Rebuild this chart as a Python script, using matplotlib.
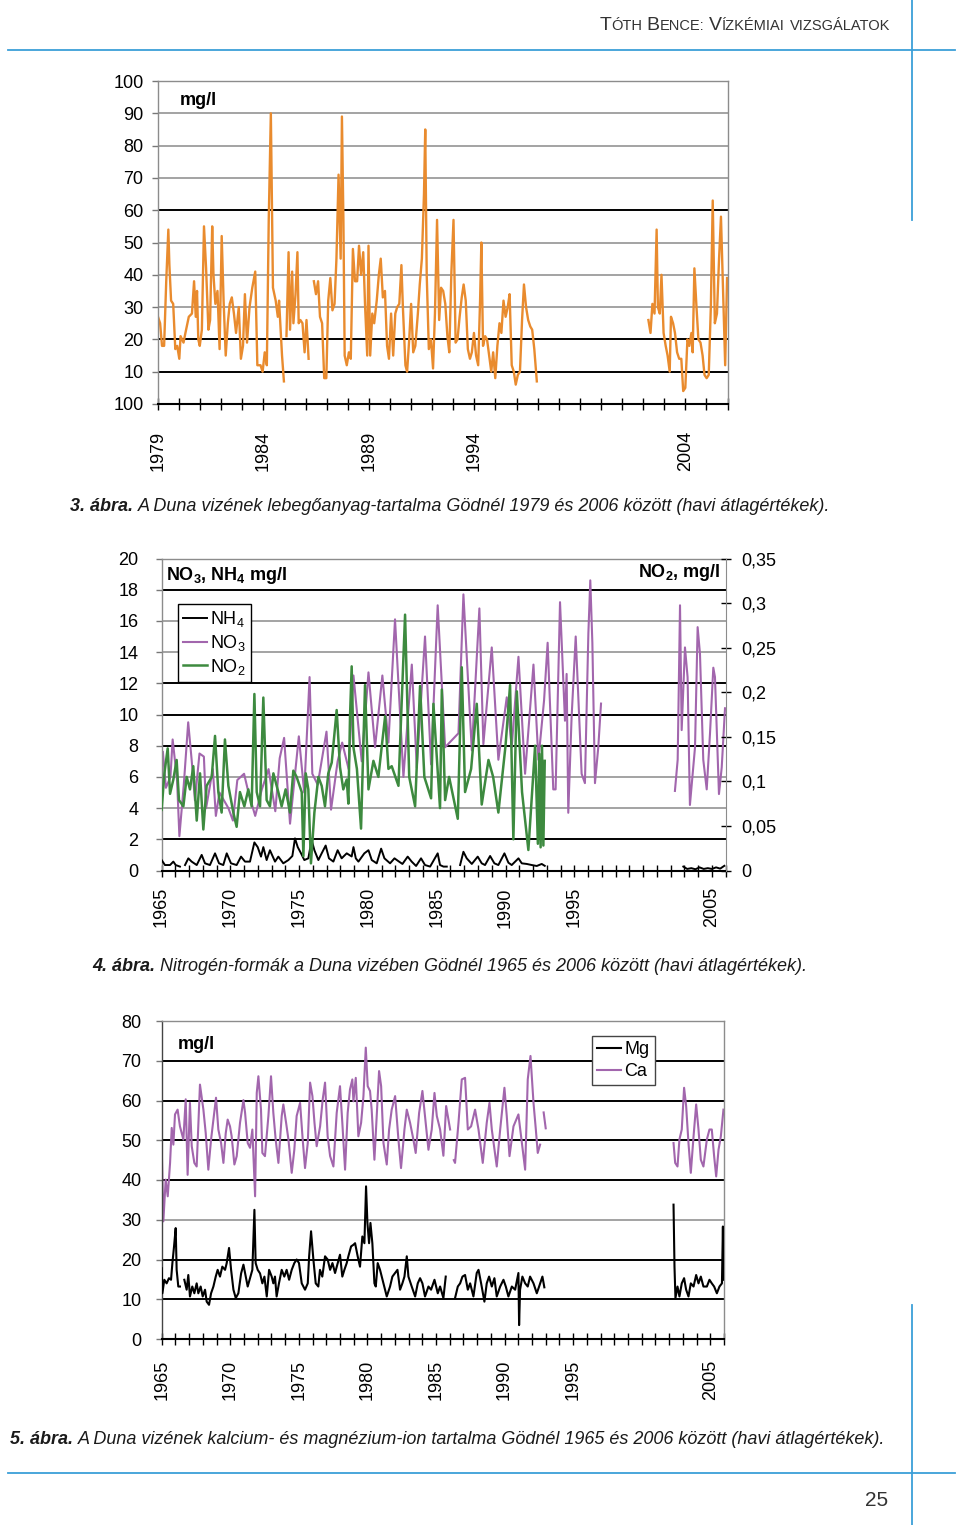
import numpy as np
import matplotlib
matplotlib.use("Agg")
import matplotlib.pyplot as plt
from matplotlib.lines import Line2D

nan = np.nan

# ---- 3. abra: lebegoanyag (mg/l), havi atlag, 1979-2006
sus_t = [1979.00, 1979.10, 1979.19, 1979.29, 1979.39, 1979.49, 1979.54, 1979.62, 1979.72, 1979.82,
         1979.91, 1980.01, 1980.07, 1980.21, 1980.30, 1980.46, 1980.61, 1980.71, 1980.79, 1980.85,
         1980.91, 1980.98, 1981.08, 1981.18, 1981.28, 1981.39, 1981.47, 1981.57, 1981.63, 1981.72,
         1981.82, 1981.92, 1982.02, 1982.11, 1982.21, 1982.31, 1982.40, 1982.50, 1982.60, 1982.70,
         1982.83, 1982.93, 1983.03, 1983.12, 1983.22, 1983.34, 1983.47, 1983.61, 1983.71, 1983.86,
         1983.96, 1984.06, 1984.16, 1984.25, 1984.35, 1984.45, 1984.58, 1984.68, 1984.74, 1984.88,
         1984.97, 1985.03, 1985.09, 1985.19, 1985.26, 1985.36, 1985.42, 1985.52, 1985.61, 1985.67,
         1985.75, 1985.85, 1985.95, 1986.04, 1986.14, 1986.26, 1986.39, 1986.49, 1986.59, 1986.68,
         1986.78, 1986.88, 1986.98, 1987.07, 1987.17, 1987.27, 1987.37, 1987.46, 1987.56, 1987.66,
         1987.72, 1987.79, 1987.85, 1987.95, 1988.05, 1988.14, 1988.24, 1988.34, 1988.44, 1988.53,
         1988.63, 1988.73, 1988.82, 1988.92, 1988.98, 1989.06, 1989.16, 1989.25, 1989.37, 1989.47,
         1989.56, 1989.66, 1989.76, 1989.86, 1989.95, 1990.05, 1990.15, 1990.25, 1990.34, 1990.44,
         1990.54, 1990.61, 1990.73, 1990.81, 1990.91, 1991.00, 1991.10, 1991.20, 1991.32, 1991.41,
         1991.51, 1991.61, 1991.67, 1991.74, 1991.84, 1991.94, 1992.04, 1992.13, 1992.23, 1992.33,
         1992.42, 1992.52, 1992.62, 1992.72, 1992.81, 1992.91, 1993.01, 1993.11, 1993.20, 1993.30,
         1993.40, 1993.49, 1993.59, 1993.69, 1993.79, 1993.88, 1993.98, 1994.08, 1994.18, 1994.27,
         1994.33, 1994.41, 1994.51, 1994.60, 1994.70, 1994.80, 1994.89, 1994.99, 1995.09, 1995.19,
         1995.28, 1995.38, 1995.48, 1995.58, 1995.67, 1995.77, 1995.87, 1995.96, 1996.06, 1996.16,
         1996.26, 1996.35, 1996.45, 1996.55, 1996.65, 1996.74, 1996.84, 1996.96, 1999.60,
         2002.25, 2002.35, 2002.44, 2002.54, 2002.64, 2002.70, 2002.79, 2002.87, 2002.97, 2003.07,
         2003.16, 2003.26, 2003.32, 2003.42, 2003.51, 2003.61, 2003.71, 2003.81, 2003.90, 2004.00,
         2004.10, 2004.19, 2004.29, 2004.35, 2004.43, 2004.53, 2004.62, 2004.72, 2004.82, 2004.91,
         2005.01, 2005.11, 2005.21, 2005.30, 2005.40, 2005.50, 2005.60, 2005.69, 2005.79, 2005.89,
         2005.98]
sus_v = [27, 25, 18, 18, 38, 54, 43, 32, 31, 17,
         18, 14, 21, 19, 22, 27, 28, 38, 27, 35,
         20, 18, 23, 55, 42, 23, 26, 55, 40, 31,
         35, 17, 52, 32, 15, 25, 31, 33, 28, 22,
         30, 14, 18, 34, 19, 30, 36, 41, 12, 12,
         10, 16, 12, 57, 90, 36, 32, 27, 32, 15,
         7, nan, 21, 47, 23, 41, 25, 34, 47, 25,
         26, 25, 16, 26, 14, nan, 38, 34, 38, 27,
         25, 8, 8, 32, 39, 29, 31, 45, 71, 45,
         89, 57, 15, 12, 16, 14, 48, 38, 38, 49,
         40, 47, 30, 15, 49, 15, 28, 25, 32, 40,
         45, 33, 35, 18, 14, 28, 15, 28, 30, 31,
         43, 30, 12, 10, 20, 31, 16, 18, 28, 37,
         45, 65, 85, 40, 17, 20, 11, 28, 57, 26,
         36, 35, 31, 21, 16, 41, 57, 19, 20, 27,
         33, 37, 32, 17, 14, 16, 22, 15, 12, 32,
         50, 18, 21, 20, 15, 10, 16, 8, 18, 25,
         22, 32, 27, 30, 34, 12, 10, 6, 9, 10,
         26, 37, 30, 26, 24, 23, 17, 7, nan,
         26, 22, 31, 28, 54, 30, 28, 40, 22, 18,
         15, 10, 27, 25, 22, 16, 14, 14, 4, 5,
         20, 18, 22, 16, 42, 30, 20, 19, 15, 9,
         8, 9, 30, 63, 25, 28, 45, 58, 35, 12,
         39]

# ---- 4. abra: nitrogen-formak
no3_t = [1965.10, 1965.32, 1965.65, 1965.81, 1966.13, 1966.30, 1966.62, 1966.94, 1967.20, 1967.43,
         1967.76, 1968.08, 1968.24, 1968.73, 1968.95, 1969.21, 1969.86, 1970.19, 1970.51, 1971.00,
         1971.32, 1971.81, 1972.29, 1972.78, 1973.27, 1973.59, 1973.91, 1974.34, 1974.98, 1975.37,
         1975.76, 1975.96, 1976.35, 1976.99, 1977.32, 1977.80, 1978.13, 1978.60, 1978.95, 1979.55,
         1980.04, 1980.52, 1981.05, 1981.49, 1981.97, 1982.58, 1983.19, 1983.55, 1984.15, 1984.59,
         1985.07, 1985.61, 1986.58, 1986.94, 1987.55, 1988.10, 1988.39, 1989.00, 1989.48, 1990.09,
         1990.45, 1990.94, 1991.42, 1992.03, 1992.39, 1992.80, 1993.06, 1993.47, 1993.64, 1993.96,
         1994.32, 1994.44, 1994.56, 1994.80, 1995.10, 1995.53, 1995.77, 1996.02, 1996.16, 1996.31,
         1996.50, 1996.74, 1996.94, 1999.60, 2002.31, 2002.51, 2002.68, 2002.80, 2003.04, 2003.23,
         2003.40, 2003.77, 2003.96, 2004.13, 2004.37, 2004.62, 2004.86, 2005.10, 2005.22, 2005.51,
         2005.71, 2005.95]
no3_v = [7.6, 5.3, 6.0, 8.4, 5.8, 2.2, 5.5, 9.5, 7.0, 4.5,
         7.5, 7.3, 4.0, 6.5, 3.5, 5.0, 4.0, 3.2, 5.8, 6.2,
         5.0, 3.5, 5.2, 6.5, 3.8, 7.2, 8.5, 3.0, 8.6, 5.0,
         12.4, 6.2, 5.5, 8.9, 3.9, 7.0, 8.2, 6.5, 12.5, 7.0,
         12.7, 7.9, 12.5, 8.2, 16.1, 6.0, 13.2, 6.6, 15.0, 6.8,
         17.0, 7.9, 8.8, 17.7, 7.7, 16.8, 8.1, 14.3, 7.1, 11.1,
         7.9, 13.7, 6.2, 13.2, 7.1, 10.9, 14.6, 5.2, 5.2, 17.2,
         9.6, 12.6, 3.7, 9.8, 15.0, 6.2, 5.6, 15.2, 18.6, 14.6,
         5.6, 7.9, 10.7, nan, 5.1, 7.1, 17.0, 9.0, 14.3, 12.4,
         4.2, 7.9, 15.6, 13.9, 7.1, 5.2, 8.8, 13.0, 12.4, 4.9,
         6.6, 10.4]

no2_t = [1965.01, 1965.21, 1965.45, 1965.62, 1965.86, 1966.10, 1966.27, 1966.59, 1966.83, 1967.07,
         1967.31, 1967.56, 1967.80, 1968.04, 1968.28, 1968.65, 1968.89, 1969.13, 1969.37, 1969.61,
         1969.86, 1970.22, 1970.46, 1970.70, 1971.02, 1971.31, 1971.55, 1971.75, 1971.92, 1972.16,
         1972.40, 1972.64, 1972.88, 1973.13, 1973.49, 1973.73, 1974.02, 1974.34, 1974.58, 1974.82,
         1975.19, 1975.31, 1975.48, 1975.67, 1975.86, 1976.11, 1976.40, 1976.64, 1976.88, 1977.12,
         1977.37, 1977.73, 1977.97, 1978.21, 1978.46, 1978.58, 1978.70, 1978.82, 1978.95, 1979.20,
         1979.50, 1979.79, 1980.04, 1980.40, 1980.76, 1981.25, 1981.49, 1981.73, 1982.22, 1982.70,
         1983.00, 1983.43, 1983.79, 1984.10, 1984.59, 1984.76, 1985.24, 1985.37, 1985.61, 1985.90,
         1986.53, 1986.82, 1987.06, 1987.50, 1987.91, 1988.27, 1988.76, 1989.10, 1989.48, 1990.00,
         1990.33, 1990.57, 1990.82, 1991.20, 1991.66, 1992.15, 1992.35, 1992.45, 1992.55, 1992.65,
         1992.75, 1992.85]
no2_v = [0.068, 0.109, 0.137, 0.086, 0.102, 0.124, 0.079, 0.072, 0.105, 0.091,
         0.117, 0.056, 0.109, 0.046, 0.095, 0.105, 0.151, 0.088, 0.065, 0.147,
         0.095, 0.065, 0.049, 0.088, 0.072, 0.091, 0.072, 0.198, 0.088, 0.072,
         0.194, 0.079, 0.072, 0.109, 0.088, 0.072, 0.091, 0.065, 0.112, 0.105,
         0.088, 0.016, 0.109, 0.091, 0.008, 0.065, 0.105, 0.095, 0.072, 0.109,
         0.121, 0.180, 0.116, 0.091, 0.102, 0.075, 0.173, 0.229, 0.138, 0.114,
         0.047, 0.208, 0.091, 0.123, 0.105, 0.173, 0.114, 0.117, 0.095, 0.287,
         0.105, 0.072, 0.207, 0.105, 0.081, 0.187, 0.070, 0.203, 0.079, 0.105,
         0.058, 0.228, 0.088, 0.114, 0.187, 0.074, 0.124, 0.105, 0.065, 0.140,
         0.208, 0.035, 0.201, 0.088, 0.023, 0.140, 0.030, 0.131, 0.026, 0.140,
         0.028, 0.123]

nh4_t = [1965.01, 1965.25, 1965.62, 1965.86, 1966.03, 1966.34, 1966.50, 1966.71, 1966.95, 1967.19,
         1967.56, 1967.92, 1968.16, 1968.52, 1968.89, 1969.18, 1969.49, 1969.74, 1970.05, 1970.46,
         1970.78, 1971.07, 1971.43, 1971.75, 1971.99, 1972.23, 1972.40, 1972.64, 1972.88, 1973.25,
         1973.49, 1973.85, 1974.22, 1974.51, 1974.70, 1974.90, 1975.14, 1975.38, 1975.67, 1975.91,
         1976.11, 1976.40, 1976.64, 1976.93, 1977.17, 1977.49, 1977.80, 1978.09, 1978.46, 1978.82,
         1978.95, 1979.12, 1979.31, 1979.74, 1980.04, 1980.28, 1980.64, 1980.96, 1981.20, 1981.61,
         1981.93, 1982.26, 1982.51, 1982.89, 1983.18, 1983.50, 1983.86, 1984.15, 1984.52, 1985.07,
         1985.24, 1985.49, 1985.73, 1986.20, 1986.70, 1986.94, 1987.18, 1987.55, 1987.98, 1988.27,
         1988.51, 1988.88, 1989.19, 1989.48, 1989.92, 1990.21, 1990.45, 1990.94, 1991.18, 1991.54,
         1991.91, 1992.27, 1992.63, 1992.85, 1997.80, 2002.92, 2003.20, 2003.50, 2003.80, 2004.10,
         2004.40, 2004.70, 2005.00, 2005.30, 2005.60, 2005.90]
nh4_v = [0.67, 0.35, 0.35, 0.57, 0.35, 0.25, nan, 0.35, 0.78, 0.57,
         0.35, 1.0, 0.46, 0.35, 1.1, 0.46, 0.35, 1.1, 0.46, 0.35,
         0.89, 0.57, 0.57, 1.8, 1.5, 0.89, 1.5, 0.67, 1.3, 0.57,
         0.89, 0.46, 0.67, 0.93, 2.06, 1.5, 1.1, 0.67, 0.78, 1.96,
         1.3, 0.67, 1.1, 1.6, 0.78, 0.57, 1.3, 0.78, 1.1, 0.9,
         1.5, 0.78, 0.57, 1.1, 1.3, 0.67, 0.46, 1.4, 0.78, 0.46,
         0.78, 0.57, 0.42, 0.89, 0.57, 0.29, 0.78, 0.35, 0.25, 1.1,
         0.35, 0.25, 0.25, nan, 0.35, 1.2, 0.78, 0.42, 0.89, 0.46,
         0.35, 0.93, 0.46, 0.35, 1.1, 0.50, 0.35, 0.78, 0.46, 0.42,
         0.35, 0.29, 0.42, 0.30, nan, 0.25, 0.10, 0.15, 0.08, 0.20,
         0.10, 0.15, 0.10, 0.20, 0.12, 0.30]

# ---- 5. abra: Ca, Mg (mg/l)
ca_t = [1965.00, 1965.12, 1965.29, 1965.44, 1965.61, 1965.73, 1965.85, 1965.97, 1966.16, 1966.33,
        1966.58, 1966.75, 1966.89, 1967.06, 1967.19, 1967.38, 1967.55, 1967.79, 1968.04, 1968.21,
        1968.40, 1968.60, 1968.77, 1968.96, 1969.13, 1969.33, 1969.50, 1969.67, 1969.81, 1969.98,
        1970.10, 1970.30, 1970.47, 1970.71, 1970.96, 1971.08, 1971.27, 1971.44, 1971.61, 1971.81,
        1971.93, 1972.05, 1972.24, 1972.34, 1972.53, 1972.78, 1972.97, 1973.14, 1973.31, 1973.51,
        1973.75, 1973.87, 1974.07, 1974.24, 1974.48, 1974.67, 1974.84, 1975.09, 1975.28, 1975.45,
        1975.65, 1975.82, 1975.99, 1976.14, 1976.30, 1976.55, 1976.74, 1976.91, 1977.10, 1977.28,
        1977.52, 1977.76, 1978.00, 1978.17, 1978.37, 1978.56, 1978.73, 1978.90, 1978.98, 1979.15,
        1979.34, 1979.54, 1979.71, 1979.88, 1980.02, 1980.19, 1980.31, 1980.51, 1980.68, 1980.85,
        1981.00, 1981.17, 1981.41, 1981.58, 1981.77, 1982.02, 1982.26, 1982.45, 1982.70, 1982.87,
        1983.11, 1983.35, 1983.52, 1983.77, 1984.01, 1984.20, 1984.45, 1984.69, 1984.89, 1985.06,
        1985.30, 1985.54, 1985.74, 1986.03, 1986.15, 1986.30, 1986.39, 1986.64, 1986.88, 1987.12,
        1987.32, 1987.56, 1987.85, 1988.10, 1988.41, 1988.70, 1988.90, 1989.07, 1989.43, 1989.68,
        1989.99, 1990.16, 1990.36, 1990.65, 1991.01, 1991.26, 1991.50, 1991.69, 1991.89, 1992.11,
        1992.28, 1992.42, 1992.59, 1992.75, 1992.85, 1993.00, 1997.50, 2002.32, 2002.44, 2002.61,
        2002.75, 2002.92, 2003.09, 2003.24, 2003.41, 2003.58, 2003.78, 2003.97, 2004.14, 2004.31,
        2004.50, 2004.75, 2004.94, 2005.11, 2005.28, 2005.43, 2005.60, 2005.77, 2005.96]
ca_v = [48.5, 29.6, 40.1, 35.9, 44.3, 53.1, 48.9, 56.5, 57.7, 53.5,
        50.2, 60.3, 41.3, 59.4, 48.5, 44.3, 43.4, 64.0, 57.7, 51.8,
        42.6, 50.2, 55.2, 60.7, 52.7, 49.3, 44.3, 51.8, 55.2, 53.5,
        51.0, 43.9, 46.0, 54.4, 60.1, 56.9, 49.3, 48.1, 52.7, 35.9,
        61.9, 66.1, 57.7, 46.8, 46.0, 56.1, 66.1, 56.9, 50.2, 44.3,
        56.1, 59.0, 54.4, 50.2, 41.8, 47.6, 56.1, 59.4, 50.2, 43.0,
        49.3, 64.5, 61.1, 54.4, 48.5, 53.5, 60.3, 64.5, 51.0, 46.0,
        43.4, 56.9, 63.6, 54.4, 42.6, 56.9, 62.8, 65.3, 59.8, 65.7,
        51.0, 54.4, 61.1, 73.3, 63.6, 62.4, 57.7, 45.1, 56.1, 67.4,
        63.6, 49.3, 43.9, 52.7, 57.7, 61.1, 50.2, 43.0, 52.7, 57.7,
        54.4, 50.2, 46.8, 56.9, 62.4, 56.1, 47.6, 52.7, 61.9, 56.1,
        52.7, 46.1, 58.6, 52.7, nan, 45.0, 44.3, 54.4, 65.3, 65.7,
        52.7, 53.5, 57.7, 52.7, 44.3, 54.4, 59.4, 52.7, 43.4, 52.7,
        63.2, 56.1, 46.0, 53.5, 56.5, 49.3, 42.6, 65.3, 71.2, 59.4,
        52.7, 46.8, 48.9, nan, 57.0, 53.0, nan, 49.3, 44.3, 43.4,
        50.2, 52.7, 63.2, 58.6, 49.3, 41.8, 51.0, 59.0, 52.7, 45.1,
        43.4, 50.2, 52.7, 52.7, 46.0, 40.9, 47.6, 51.0, 57.7]

mg_t = [1965.00, 1965.05, 1965.19, 1965.36, 1965.53, 1965.68, 1965.78, 1965.90, 1966.02, 1966.09,
        1966.21, 1966.33, 1966.50, 1966.65, 1966.82, 1966.94, 1967.06, 1967.23, 1967.38, 1967.55,
        1967.67, 1967.84, 1967.99, 1968.16, 1968.28, 1968.45, 1968.60, 1968.77, 1968.94, 1969.08,
        1969.25, 1969.42, 1969.62, 1969.74, 1969.91, 1970.06, 1970.23, 1970.40, 1970.59, 1970.79,
        1970.96, 1971.13, 1971.27, 1971.44, 1971.61, 1971.76, 1971.85, 1972.00, 1972.17, 1972.34,
        1972.49, 1972.66, 1972.83, 1973.02, 1973.14, 1973.26, 1973.38, 1973.55, 1973.75, 1973.94,
        1974.11, 1974.29, 1974.48, 1974.67, 1974.84, 1975.01, 1975.21, 1975.45, 1975.65, 1975.75,
        1975.89, 1976.06, 1976.23, 1976.42, 1976.54, 1976.71, 1976.91, 1977.10, 1977.28, 1977.45,
        1977.64, 1977.84, 1978.00, 1978.17, 1978.32, 1978.49, 1978.61, 1978.81, 1978.98, 1979.10,
        1979.29, 1979.46, 1979.63, 1979.78, 1979.90, 1980.00, 1980.12, 1980.22, 1980.36, 1980.51,
        1980.61, 1980.75, 1980.92, 1981.17, 1981.41, 1981.65, 1981.82, 1982.02, 1982.19, 1982.38,
        1982.55, 1982.70, 1982.87, 1982.99, 1983.23, 1983.48, 1983.67, 1983.84, 1984.01, 1984.20,
        1984.45, 1984.64, 1984.89, 1985.13, 1985.30, 1985.54, 1985.71, 1986.05, 1986.39, 1986.59,
        1986.76, 1986.93, 1987.12, 1987.32, 1987.49, 1987.73, 1987.97, 1988.10, 1988.29, 1988.53,
        1988.70, 1988.87, 1989.07, 1989.26, 1989.43, 1989.68, 1989.92, 1990.09, 1990.28, 1990.53,
        1990.77, 1991.01, 1991.06, 1991.13, 1991.30, 1991.50, 1991.69, 1991.86, 1992.11, 1992.35,
        1992.52, 1992.76, 1992.90, 1997.50, 2002.32, 2002.39, 2002.46, 2002.61, 2002.75, 2002.92,
        2003.09, 2003.24, 2003.41, 2003.58, 2003.78, 2003.97, 2004.14, 2004.31, 2004.50, 2004.75,
        2004.94, 2005.11, 2005.28, 2005.48, 2005.67, 2005.85, 2005.92, 2005.96]
mg_v = [17.8, 11.5, 14.9, 14.0, 15.3, 14.9, 19.1, 23.3, 27.9, 17.4,
        13.2, 13.2, nan, 14.9, 12.4, 16.1, 10.7, 13.2, 11.5, 14.0,
        11.5, 13.2, 10.7, 12.4, 9.4, 8.6, 11.5, 13.2, 15.7, 17.4,
        15.7, 18.2, 17.4, 19.1, 22.9, 17.4, 12.4, 10.3, 11.5, 16.5,
        18.7, 15.7, 13.2, 15.3, 17.4, 32.5, 19.1, 17.4, 16.5, 14.0,
        15.7, 10.7, 17.4, 15.7, 14.0, 15.7, 10.7, 14.0, 17.4, 15.7,
        17.4, 14.9, 17.4, 19.1, 20.0, 19.1, 14.0, 12.4, 14.0, 20.8,
        27.1, 20.0, 14.0, 13.2, 17.4, 15.7, 20.8, 20.0, 17.4, 19.1,
        16.6, 19.1, 21.2, 15.7, 17.4, 19.1, 20.8, 23.3, 23.7, 24.1,
        20.8, 18.2, 25.8, 24.1, 38.4, 29.2, 24.1, 29.2, 24.1, 14.0,
        13.2, 19.1, 17.4, 14.0, 10.7, 13.2, 15.7, 16.6, 17.4, 12.4,
        14.0, 15.7, 20.8, 15.7, 13.2, 10.7, 14.0, 15.3, 14.0, 10.7,
        13.2, 12.4, 14.9, 11.5, 13.2, 10.3, 15.7, nan, 10.3, 13.2,
        14.0, 15.7, 16.1, 12.4, 14.0, 10.7, 16.6, 17.4, 14.0, 9.4,
        14.0, 15.7, 13.2, 15.3, 10.7, 13.2, 14.9, 13.2, 10.7, 13.2,
        12.4, 16.6, 3.5, 12.4, 15.7, 14.0, 13.2, 15.7, 14.0, 11.5,
        13.2, 15.7, 13.0, nan, 33.8, 18.2, 10.3, 13.2, 10.7, 14.0,
        15.3, 12.4, 10.7, 14.0, 13.2, 16.1, 14.0, 15.7, 13.2, 13.2,
        14.9, 14.0, 13.2, 11.5, 13.2, 14.0, 28.3, 14.9]

for a, b in [(sus_t, sus_v), (no3_t, no3_v), (no2_t, no2_v), (nh4_t, nh4_v), (ca_t, ca_v), (mg_t, mg_v)]:
    assert len(a) == len(b), (len(a), len(b))

# tick labels
sus_ylabels = ["100", "10", "20", "30", "40", "50", "60", "70", "80", "90", "100"]
sus_years = [1979, 1984, 1989, 1994, 2004]
n_ylabels = ["0", "2", "4", "6", "8", "10", "12", "14", "16", "18", "20"]
no2_ylabels = ["0", "0,05", "0,1", "0,15", "0,2", "0,25", "0,3", "0,35"]
ion_ylabels = ["0", "10", "20", "30", "40", "50", "60", "70", "80"]
long_years = [1965, 1970, 1975, 1980, 1985, 1990, 1995, 2005]

ORANGE = "#e98b2e"
PURPLE = "#a266ad"
GREEN = "#3d8a3f"
BLUE = "#3c9fd8"
GRID_GRAY = "#8a8a8a"

plt.rcParams["font.family"] = ["Liberation Sans", "DejaVu Sans"]
plt.rcParams["mathtext.fontset"] = "custom"
plt.rcParams["mathtext.rm"] = "Liberation Sans"
plt.rcParams["mathtext.bf"] = "Liberation Sans:bold"
plt.rcParams["mathtext.it"] = "Liberation Sans:italic"

W, H = 960, 1525
fig = plt.figure(figsize=(9.6, 15.25), dpi=100)


def rect(l, t, r, b):
    return [l / W, 1 - b / H, (r - l) / W, (b - t) / H]


def style(ax, x0, x1, ymax, ystep, dark, ylabels, labyears, xpad, ypad):
    ax.set_xlim(x0, x1)
    ax.set_ylim(0, ymax)
    yrs = list(range(int(x0), int(round(x1)) + 1))
    ax.set_xticks(yrs)
    ax.set_xticklabels([str(y) if y in labyears else "" for y in yrs], rotation=90)
    ax.tick_params(axis="x", direction="inout", length=8, width=1.0, color="black",
                   pad=xpad, labelsize=13)
    yt = np.arange(0, ymax + ystep / 2, ystep)
    ax.set_yticks(yt)
    ax.set_yticklabels(ylabels)
    ax.tick_params(axis="y", direction="out", length=4.5, width=1.0, color="#777777",
                   pad=ypad, labelsize=13)
    for lev in yt[1:-1]:
        ax.axhline(lev, color="black" if lev in dark else GRID_GRAY,
                   lw=1.4 if lev in dark else 1.1, zorder=1)
    for s in ("top", "right", "left"):
        ax.spines[s].set_color("#8c8c8c")
        ax.spines[s].set_linewidth(1.0)
    ax.spines["bottom"].set_color("black")
    ax.spines["bottom"].set_linewidth(1.5)


# ---------------- chart 3 (lebegoanyag)
ax1 = fig.add_axes(rect(158, 81, 727.5, 404))
style(ax1, 1979, 2006, 100, 10, [10, 20, 60], sus_ylabels, sus_years, xpad=15, ypad=6)
ax1.plot(sus_t, sus_v, color=ORANGE, lw=1.7, zorder=2)
ax1.text(0.039, 0.94, "mg/l", transform=ax1.transAxes, fontsize=13, fontweight="bold",
         va="center", ha="left")

# ---------------- chart 4 (nitrogen)
ax2 = fig.add_axes(rect(161.5, 558.5, 725.7, 870.5))
style(ax2, 1965, 2006, 20, 2, [2, 8, 10, 12, 18], n_ylabels, long_years, xpad=8, ypad=12)
l_no3, = ax2.plot(no3_t, no3_v, color=PURPLE, lw=1.5, zorder=2)
l_nh4, = ax2.plot(nh4_t, nh4_v, color="black", lw=1.4, zorder=3)
ax2.spines["right"].set_visible(False)
ax2r = ax2.twinx()
ax2r.set_ylim(0, 0.35)
ax2r.set_yticks(np.arange(0, 0.351, 0.05))
ax2r.set_yticklabels(no2_ylabels)
ax2r.tick_params(axis="y", direction="inout", length=7, width=1.0, color="black",
                 pad=8, labelsize=13)
for s in ("top", "left", "bottom"):
    ax2r.spines[s].set_visible(False)
ax2r.spines["right"].set_color("#8c8c8c")
l_no2, = ax2r.plot(no2_t, no2_v, color=GREEN, lw=1.8, zorder=2)
ax2.text(0.008, 0.947, r"NO$_\mathbf{3}$, NH$_\mathbf{4}$ mg/l", transform=ax2.transAxes,
         fontsize=13, fontweight="bold", va="center", ha="left")
ax2.text(0.990, 0.954, r"NO$_\mathbf{2}$, mg/l", transform=ax2.transAxes,
         fontsize=13, fontweight="bold", va="center", ha="right")
leg = ax2r.legend([l_nh4, l_no3, l_no2], [r"NH$_4$", r"NO$_3$", r"NO$_2$"],
                  loc="upper left", bbox_to_anchor=(0.029, 0.854), borderaxespad=0,
                  fontsize=13, handlelength=1.3, handletextpad=0.2, borderpad=0.3,
                  labelspacing=0.2, fancybox=False, framealpha=1, edgecolor="black")
leg.get_frame().set_linewidth(1.0)

# ---------------- chart 5 (Ca, Mg)
ax3 = fig.add_axes(rect(161.7, 1021, 724, 1339))
style(ax3, 1965, 2006, 80, 10, [10, 20, 40, 50, 60, 70], ion_ylabels, long_years, xpad=11, ypad=10)
ax3.spines["left"].set_color("#444444")
l_ca, = ax3.plot(ca_t, ca_v, color=PURPLE, lw=1.5, zorder=2)
l_mg, = ax3.plot(mg_t, mg_v, color="black", lw=1.5, zorder=3)
ax3.text(0.029, 0.925, "mg/l", transform=ax3.transAxes, fontsize=13, fontweight="bold",
         va="center", ha="left")
leg3 = ax3.legend([l_mg, l_ca], ["Mg", "Ca"], loc="upper left", bbox_to_anchor=(0.765, 0.953),
                  borderaxespad=0, fontsize=13, handlelength=1.3, handletextpad=0.2,
                  borderpad=0.3, labelspacing=0.25, fancybox=False, framealpha=1,
                  edgecolor="#444444")
leg3.set_zorder(5)

# ---------------- page furniture
rend = fig.canvas.get_renderer()


def runs_at(runs, x_px, base_px, align="left"):
    items, total = [], 0.0
    for s, kw, gap in runs:
        t = fig.text(0, 1 - base_px / H, s, va="baseline", ha="left", **kw)
        w = t.get_window_extent(rend).width
        items.append((t, total))
        total += w + gap
    start = x_px - total if align == "right" else x_px
    for t, off in items:
        t.set_x((start + off) / W)


def sp(size):
    return 0.278 * size * 100 / 72


big = dict(fontsize=14, color="#333333")
small = dict(fontsize=10.5, color="#333333")
runs_at([("T", big, 0), ("ÓTH", small, sp(12)), ("B", big, 0), ("ENCE:", small, sp(12)),
         ("V", big, 0), ("ÍZKÉMIAI", small, sp(12)), ("VIZSGÁLATOK", small, 0)],
        890, 30, align="right")

cap = 13
bi = dict(fontsize=cap, fontstyle="italic", fontweight="bold", color="#1a1a1a")
it = dict(fontsize=cap, fontstyle="italic", color="#1a1a1a")
runs_at([("3. ábra.", bi, sp(cap)),
         ("A Duna vizének lebegőanyag-tartalma Gödnél 1979 és 2006 között (havi átlagértékek).", it, 0)],
        70, 511)
runs_at([("4. ábra.", bi, sp(cap)),
         ("Nitrogén-formák a Duna vizében Gödnél 1965 és 2006 között (havi átlagértékek).", it, 0)],
        92, 971)
runs_at([("5. ábra.", bi, sp(cap)),
         ("A Duna vizének kalcium- és magnézium-ion tartalma Gödnél 1965 és 2006 között (havi átlagértékek).", it, 0)],
        10, 1444)

fig.text(877 / W, 1 - 1500 / H, "25", fontsize=15, color="#333333", ha="center", va="center")

for (xa, xb, ya, yb) in [(8, 955, 50, 50), (912, 912, 0, 220), (8, 955, 1473, 1473), (912, 912, 1305, 1525)]:
    fig.add_artist(Line2D([xa / W, xb / W], [1 - ya / H, 1 - yb / H], color=BLUE, lw=1.3))

fig.savefig("out.png", dpi=100)
